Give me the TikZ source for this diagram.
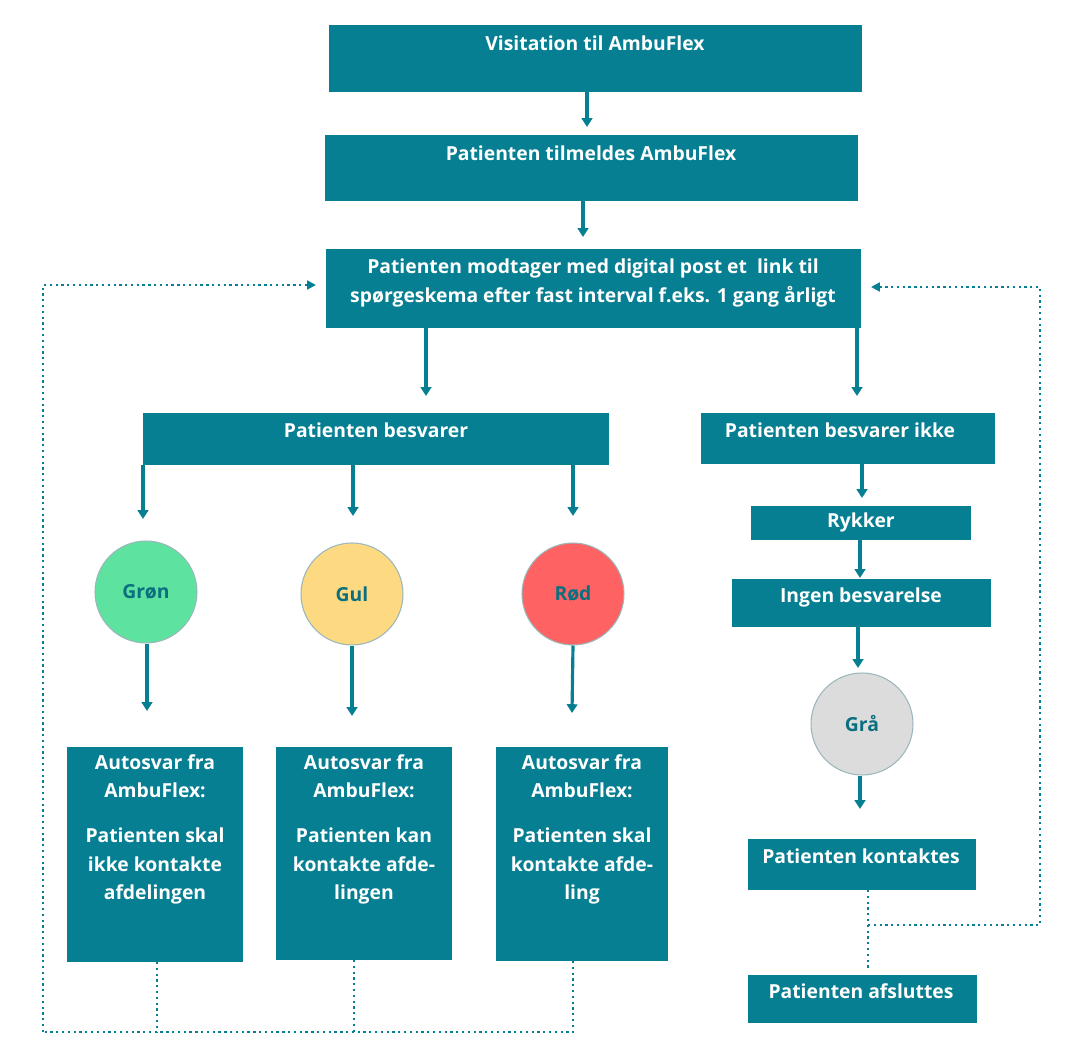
\documentclass[tikz,border=0pt]{standalone}
\usepackage{fontspec}
\setmainfont{Open Sans}
\usetikzlibrary{arrows.meta}
\definecolor{teal}{HTML}{077F92}
\definecolor{tealtxt}{HTML}{0B6F80}
\begin{document}
\begin{tikzpicture}[x=0.02cm,y=-0.02cm,
 box/.style={fill=teal,draw=none},
 t/.style={text=white,font=\fontsize{11}{16}\selectfont\bfseries,align=center,inner sep=0},
 c/.style={circle,draw=teal!60!black!40,line width=0.6pt,minimum size=2.04cm,text=tealtxt,font=\fontsize{11}{13}\selectfont\bfseries},
 ar/.style={draw=teal,line width=1.8pt,-{Triangle[length=5pt,width=6pt]}},
 dt/.style={draw=teal,line width=1.3pt,dotted},
 dta/.style={dt,-{Triangle[length=5pt,width=5pt]}}]
\useasboundingbox (0,0) rectangle (1080,1060);
\fill[box] (329,25) rectangle (862,92);
\node[t] (b1) at (595,43) {Visitation til AmbuFlex};
\fill[box] (325,135) rectangle (858,201);
\node[t] (b2) at (591,153) {Patienten tilmeldes AmbuFlex};
\fill[box] (326,249) rectangle (861,328);
\node[t] (b3) at (593,283) {Patienten modtager med digital post et~ link til\\spørgeskema efter fast interval f.eks. 1 gang årligt};
\fill[box] (143,413) rectangle (609,465);
\node[t] (b4) at (376,430) {Patienten besvarer};
\fill[box] (701,413) rectangle (995,464);
\node[t] (b5) at (840,430) {Patienten besvarer ikke};
\fill[box] (751,506) rectangle (971,540);
\node[t] (b6) at (861,522) {Rykker};
\fill[box] (732,579) rectangle (991,627);
\node[t] (b7) at (861,597) {Ingen besvarelse};
\node[c,fill={rgb,255:red,94;green,226;blue,160}] (g) at (146,592) {Grøn};
\node[c,fill={rgb,255:red,253;green,218;blue,130}] (y) at (352,594) {Gul};
\node[c,fill={rgb,255:red,254;green,98;blue,98}] (r) at (573,594) {Rød};
\node[c,fill={rgb,255:red,220;green,220;blue,220}] (gr) at (862,724) {Grå};
\fill[box] (67,747) rectangle (243,962);
\node[t,anchor=north] (a1) at (155,754) {Autosvar fra\\AmbuFlex:\\[10pt]Patienten skal\\ikke kontakte\\afdelingen};
\fill[box] (276,747) rectangle (452,960);
\node[t,anchor=north] (a2) at (364,754) {Autosvar fra\\AmbuFlex:\\[10pt]Patienten kan\\kontakte afde-\\lingen};
\fill[box] (496,747) rectangle (668,961);
\node[t,anchor=north] (a3) at (582,754) {Autosvar fra\\AmbuFlex:\\[10pt]Patienten skal\\kontakte afde-\\ling};
\fill[box] (748,839) rectangle (976,890);
\node[t] (k) at (861,856) {Patienten kontaktes};
\fill[box] (748,975) rectangle (977,1023);
\node[t] (af) at (861,991) {Patienten afsluttes};
% arrows
\draw[ar] (587,92) -- (587,127);
\draw[ar] (583,201) -- (583,237);
\draw[ar] (426,328) -- (426,396);
\draw[ar] (857,328) -- (857,396);
\draw[ar] (143,465) -- (143,519);
\draw[ar] (353,465) -- (353,516);
\draw[ar] (573,465) -- (573,516);
\draw[ar] (g.south) ++(1,0) -- (147,711);
\draw[ar] (y.south) -- (352,716);
\draw[ar] (r.south) -- (572,713);
\draw[ar] (862,464) -- (862,498);
\draw[ar] (860,540) -- (860,578);
\draw[ar] (858,627) -- (858,668);
\draw[ar] (gr.south) ++(-2,0) -- (860,809);
% dotted
\coordinate (L) at (43,1032);
\draw[dt] (157,962) -- (157,1032);
\draw[dt] (354,960) -- (354,1032);
\draw[dt] (573,961) -- (573,1032) -- (L);
\draw[dta] (L) -- (43,285) -- (316,285);
\draw[dt] (868,890) -- (868,968);
\draw[dta] (868,925) -- (1040,925) -- (1040,287) -- (871,287);
\end{tikzpicture}
\end{document}
